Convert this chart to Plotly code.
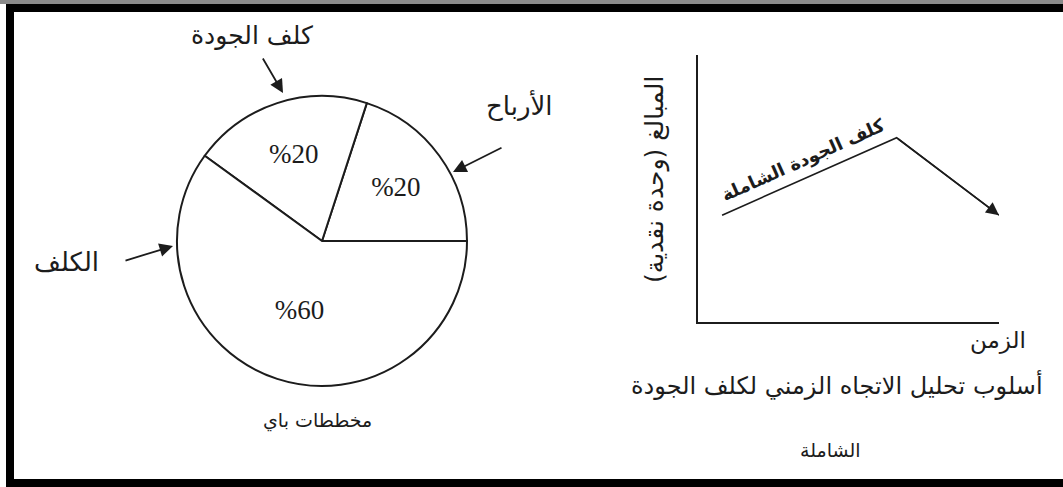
import plotly.graph_objects as go

# ---------------- data ----------------
pie_labels = ["الأرباح", "كلف الجودة", "الكلف"]
pie_values = [20, 20, 60]
pie_text = ["%" + str(v) for v in pie_values]

time_pts = [0.8, 6.6, 10.0]
cost_pts = [4.0, 6.9, 4.0]

line_label = "كلف الجودة الشاملة"
y_title = "المبالغ (وحدة نقدية)"
x_title = "الزمن"
right_caption_1 = "أسلوب تحليل الاتجاه الزمني لكلف الجودة"
right_caption_2 = "الشاملة"
pie_caption = "مخططات باي"

W, H = 1063, 487
def px(x):
    return x / W
def py(y):
    return 1 - y / H

AR_FONT = "DejaVu Sans"
INK = "#1c1c1c"

fig = go.Figure()

# pie chart
cx, cy, r = 322, 241, 145
fig.add_trace(go.Pie(
    labels=pie_labels, values=pie_values, text=pie_text,
    textinfo="text", textposition="inside", insidetextorientation="horizontal",
    sort=False, direction="counterclockwise", rotation=18,
    marker=dict(colors=["white"] * 3, line=dict(color=INK, width=2)),
    textfont=dict(family="Liberation Serif", size=27, color=INK),
    domain=dict(x=[px(cx - r), px(cx + r)], y=[py(cy + r), py(cy - r)]),
    showlegend=False, hoverinfo="label+value",
))

# line chart
fig.add_trace(go.Scatter(
    x=time_pts, y=cost_pts, mode="lines",
    line=dict(color=INK, width=1.6), xaxis="x", yaxis="y",
    showlegend=False, hoverinfo="x+y",
))

ax0, ax1, ay0, ay1 = 698, 999, 322, 55
fig.update_layout(
    width=W, height=H, margin=dict(l=0, r=0, t=0, b=0),
    paper_bgcolor="white", plot_bgcolor="white",
    xaxis=dict(domain=[px(ax0), px(ax1)], range=[0, 10], showgrid=False,
               zeroline=False, showticklabels=False, ticks="",
               showline=True, linecolor=INK, linewidth=2.2),
    yaxis=dict(domain=[py(ay0), py(ay1)], range=[0, 10], showgrid=False,
               zeroline=False, showticklabels=False, ticks="",
               showline=True, linecolor=INK, linewidth=2.2),
)

def label(x, y, text, size, angle=0, ref="paper"):
    return dict(x=x, y=y, xref=ref if ref == "paper" else "x",
                yref=ref if ref == "paper" else "y", text=text, showarrow=False,
                textangle=angle, xanchor="center", yanchor="middle",
                font=dict(family=AR_FONT, size=size, color=INK))

ann = []
# arrowhead at end of trend line
ann.append(dict(x=time_pts[-1], y=cost_pts[-1], ax=time_pts[-2], ay=cost_pts[-2],
                xref="x", yref="y", axref="x", ayref="y", text="", showarrow=True,
                arrowhead=2, arrowsize=1.6, arrowwidth=1.6, arrowcolor=INK, standoff=0))
# line label along rising segment
ann.append(label(3.5, 6.05, "<b>" + line_label + "</b>", 18, angle=-24, ref="data"))
# axis titles and captions
ann.append(label(px(655), py(180), y_title, 25, angle=-90))
ann.append(label(px(998), py(340), x_title, 23))
ann.append(label(px(837), py(385), right_caption_1, 24))
ann.append(label(px(830), py(450), right_caption_2, 19))

# pie labels with arrows
pie_label_pos = [(519, 105), (252, 35), (66, 262)]
pie_label_size = [26, 25, 26]
pie_arrows = [((453, 172), (503, 147)), ((283, 93), (262, 57)), ((173, 246), (124, 261))]
for lab, (tx, ty), fs, ((hx, hy), (tlx, tly)) in zip(pie_labels, pie_label_pos, pie_label_size, pie_arrows):
    ann.append(label(px(tx), py(ty), lab, fs))
    ann.append(dict(x=px(hx), y=py(hy), xref="paper", yref="paper", text="",
                    showarrow=True, ax=tlx - hx, ay=tly - hy,
                    arrowhead=2, arrowsize=1.5, arrowwidth=1.8, arrowcolor=INK, standoff=0))
ann.append(label(px(317), py(420), pie_caption, 19))
fig.update_layout(annotations=ann)

# scanned frame
shapes = [
    dict(type="rect", xref="paper", yref="paper", x0=0, x1=1, y0=py(4), y1=1,
         fillcolor="#8a8a8a", line_width=0, layer="above"),
    dict(type="rect", xref="paper", yref="paper", x0=px(6), x1=1, y0=py(12), y1=py(4),
         fillcolor="black", line_width=0, layer="above"),
    dict(type="rect", xref="paper", yref="paper", x0=px(6), x1=px(14), y0=0, y1=py(4),
         fillcolor="black", line_width=0, layer="above"),
    dict(type="rect", xref="paper", yref="paper", x0=px(6), x1=1, y0=0, y1=py(479),
         fillcolor="black", line_width=0, layer="above"),
]
fig.update_layout(shapes=shapes)

fig.write_html("out.html", config={"displayModeBar": False},
               post_script="document.body.style.margin='0';document.body.style.overflow='hidden';")
